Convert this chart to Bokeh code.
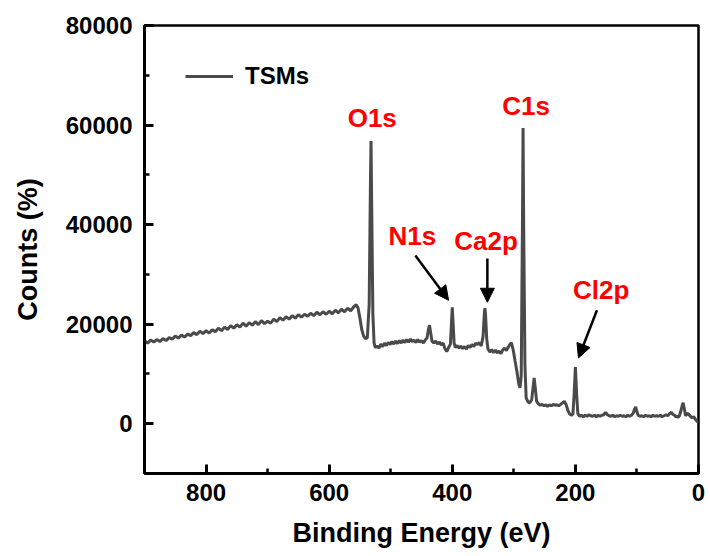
from bokeh.plotting import figure
from bokeh.models import (Range1d, SingleIntervalTicker, Label, Arrow, NormalHead,
                          Legend, LegendItem, ColumnDataSource, NumeralTickFormatter)
from bokeh.embed import file_html
from bokeh.resources import INLINE

# ---------------- data ----------------
energy = [900, 895, 890, 885, 880, 875, 870, 865, 860, 855, 850, 845, 840, 835, 830, 825, 820, 815, 810, 805,
          800, 795, 790, 785, 780, 775, 770, 765, 760, 755, 750, 745, 740, 735, 730, 725, 720, 715, 710, 705,
          700, 695, 690, 685, 680, 675, 670, 665, 660, 655, 650, 645, 640, 635, 630, 625, 620, 615, 610, 605,
          600, 595, 590, 585, 580, 575, 570, 565, 560, 556, 553, 550, 547, 544, 541, 538, 535, 533, 532, 531,
          529, 527, 525, 522, 519, 516, 513, 510, 507, 504, 501, 498, 495, 492, 489, 486, 483, 480, 477, 474,
          471, 468, 465, 462, 459, 456, 453, 450, 447, 444, 441, 439, 437, 435, 433, 430, 427, 424, 421, 418,
          415, 412, 409, 406, 403, 401, 400, 399, 397, 395, 392, 389, 386, 383, 380, 377, 374, 371, 368, 365,
          362, 359, 356, 353, 350, 348, 347, 346, 344, 342, 339, 336, 333, 330, 327, 324, 321, 318, 315, 312,
          309, 306, 304, 301, 298, 295, 292, 290, 288, 286, 285, 284, 282, 280, 277, 274, 271, 269, 267, 265,
          263, 260, 257, 254, 251, 248, 245, 242, 239, 236, 233, 230, 227, 224, 221, 218, 215, 212, 209, 206,
          204, 202, 200, 198, 196, 193, 190, 187, 184, 181, 178, 175, 172, 169, 166, 163, 160, 157, 154, 151,
          148, 145, 142, 139, 136, 133, 130, 127, 124, 121, 118, 115, 112, 109, 106, 104, 102, 100, 98, 95,
          92, 89, 86, 83, 80, 77, 74, 71, 68, 65, 62, 59, 56, 53, 50, 47, 44, 42, 39, 37,
          35, 33, 31, 29, 27, 25, 23, 21, 19, 17, 14, 11, 8, 5, 3, 1, 0]
counts = [16700, 16200, 16800, 16400, 16900, 16500, 17100, 16700, 17300, 17000, 17600, 17200, 17800, 17400, 18000, 17700, 18300, 17900, 18600, 18100,
          18700, 18200, 18900, 18500, 19200, 18700, 19400, 18900, 19700, 19200, 19900, 19400, 20200, 19600, 20300, 19800, 20500, 19900, 20700, 20100,
          20600, 20200, 21000, 20500, 21300, 20800, 21500, 21000, 21700, 21200, 21900, 21400, 22000, 21600, 22200, 21700, 22400, 21900, 22500, 22000,
          22600, 22100, 22800, 22300, 23000, 22500, 23200, 22700, 23500, 23900, 23200, 21200, 18900, 17600, 17100, 17300, 24000, 48000, 56800, 45000,
          22000, 16200, 15300, 15600, 15200, 16000, 15500, 16200, 15700, 16300, 15900, 16500, 16000, 16600, 16100, 16700, 16200, 16800, 16300, 16900,
          16400, 17000, 16500, 16800, 16300, 16900, 16400, 16700, 16200, 16800, 17200, 18800, 19800, 18200, 16600, 16200, 16600, 16000, 16400, 15800,
          16200, 15100, 14500, 15300, 16000, 21000, 23400, 21000, 16200, 15300, 15700, 15200, 15600, 15100, 15500, 15000, 15700, 15300, 15900, 15500,
          16200, 15900, 16300, 15600, 17500, 22000, 23200, 22000, 17000, 15000, 14400, 14900, 14300, 14800, 14200, 14600, 14100, 14800, 15200, 14700,
          15400, 16000, 16300, 14800, 12600, 10500, 8000, 7200, 9500, 40000, 59400, 40000, 12000, 5200, 4400, 4200, 4800, 7000, 9200, 7000,
          4500, 4000, 3700, 3900, 3600, 3800, 3500, 3800, 3600, 3900, 3700, 3800, 3600, 3900, 4200, 4500, 3800, 2600, 1900, 1700,
          2000, 6000, 11400, 6000, 2000, 1500, 1700, 1400, 1700, 1500, 1800, 1600, 1500, 1700, 1400, 1700, 1500, 1700, 1800, 2300,
          1800, 1600, 1500, 1700, 1400, 1600, 1500, 1700, 1500, 1600, 1400, 1700, 1500, 1700, 2100, 2900, 3400, 2400, 1700, 1500,
          1600, 1400, 1700, 1500, 1600, 1400, 1700, 1500, 1600, 1500, 1700, 1400, 1600, 1800, 1600, 2000, 2300, 1900, 1700, 1400,
          1500, 1300, 1600, 2400, 3400, 4200, 3000, 1600, 1900, 2100, 1600, 1200, 1400, 900, 600, 400, 400]

series_name = "TSMs"
peak_labels = ["O1s", "C1s", "N1s", "Ca2p", "Cl2p"]
x_tick_interval = 200
y_tick_interval = 20000

FONT = "Liberation Sans"

p = figure(width=710, height=556, output_backend="svg", toolbar_location=None,
           x_range=Range1d(900, 0), y_range=Range1d(-10000, 80000),
           min_border_left=144, min_border_right=12, min_border_top=25, min_border_bottom=83)
p.background_fill_color = "white"
p.border_fill_color = "white"
p.xgrid.visible = False
p.ygrid.visible = False
p.outline_line_color = "black"
p.outline_line_width = 2.5
p.outline_line_alpha = 1.0

src = ColumnDataSource(dict(energy=energy, counts=counts))
r = p.line("energy", "counts", source=src, line_color="#4a4a4a", line_width=3)

p.xaxis.ticker = SingleIntervalTicker(interval=x_tick_interval, num_minor_ticks=2)
p.yaxis.ticker = SingleIntervalTicker(interval=y_tick_interval, num_minor_ticks=2)
p.yaxis.formatter = NumeralTickFormatter(format="0")

for ax in (p.xaxis[0], p.yaxis[0]):
    ax.axis_line_width = 3
    ax.axis_line_color = "black"
    ax.major_tick_in = 9
    ax.major_tick_out = 0
    ax.minor_tick_in = 5
    ax.minor_tick_out = 0
    ax.major_tick_line_width = 3
    ax.minor_tick_line_width = 2.5
    ax.major_tick_line_color = "black"
    ax.minor_tick_line_color = "black"
    ax.major_label_text_font = FONT
    ax.major_label_text_font_style = "bold"
    ax.major_label_text_font_size = "24px"
    ax.major_label_text_color = "black"
    ax.axis_label_text_font = FONT
    ax.axis_label_text_font_style = "bold"
    ax.axis_label_text_font_size = "27px"
    ax.axis_label_text_color = "black"

p.xaxis.axis_label = "Binding Energy (eV)"
p.yaxis.axis_label = "Counts (%)"
p.xaxis.major_label_standoff = 10
p.xaxis.axis_label_standoff = 14
p.yaxis.major_label_standoff = 12
p.yaxis.axis_label_standoff = 20

legend = Legend(items=[LegendItem(label=series_name, renderers=[r])],
                location=(41, 383), padding=0, margin=0, spacing=0,
                glyph_width=48, glyph_height=24, label_height=24, label_standoff=12,
                label_text_font=FONT, label_text_font_style="bold",
                label_text_font_size="24px", label_text_color="black",
                border_line_alpha=0, background_fill_alpha=0)
p.add_layout(legend)

label_pos = [(530, 61400), (280, 63800), (465, 37800), (345, 36800), (158, 26800)]
for txt, (lx, ly) in zip(peak_labels, label_pos):
    p.add_layout(Label(x=lx, y=ly, text=txt, text_align="center", text_baseline="middle",
                       text_font=FONT, text_font_style="bold", text_font_size="26px",
                       text_color="red"))

arrows = [((460, 33800), (406, 24800)),
          ((343, 33200), (343, 24400)),
          ((165, 22800), (195, 13200))]
for (xs, ys), (xe, ye) in arrows:
    p.add_layout(Arrow(end=NormalHead(size=14, fill_color="black", line_color="black", line_width=1),
                       x_start=xs, y_start=ys, x_end=xe, y_end=ye,
                       line_color="black", line_width=2.5))

open("out.html", "w").write(file_html(p, INLINE))
